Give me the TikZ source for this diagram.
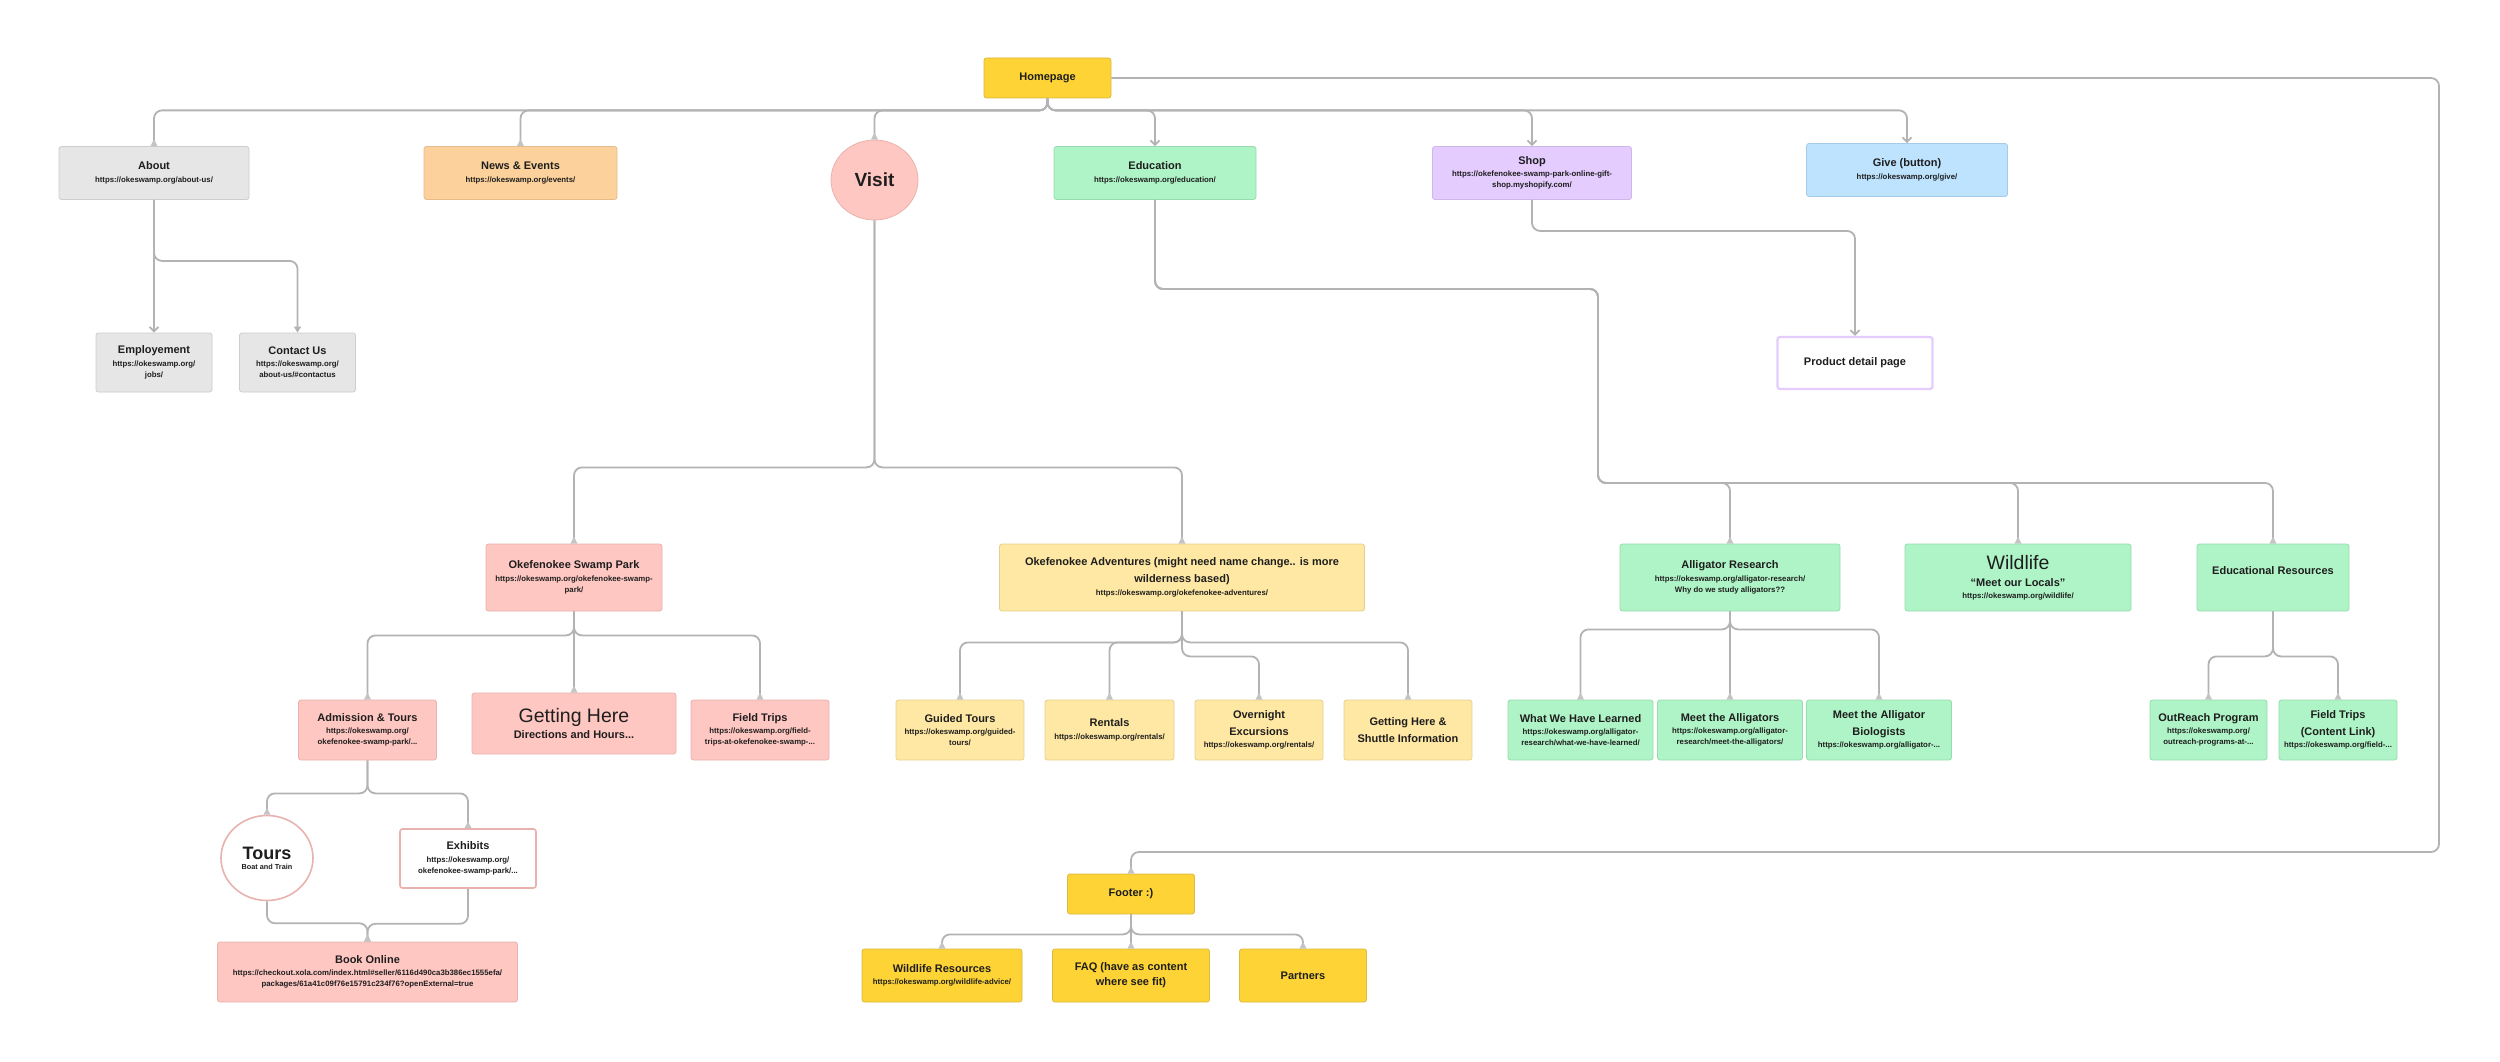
\documentclass[tikz,border=0pt]{standalone}
\usepackage{fontspec}
\setmainfont{Liberation Sans}
\usetikzlibrary{arrows.meta,shapes.geometric}
\definecolor{txt}{HTML}{1E1E1E}
\definecolor{linec}{HTML}{B3B3B3}
\definecolor{tipc}{HTML}{C4C4C4}
\definecolor{yel}{HTML}{FDD335}
\definecolor{yeld}{HTML}{DDB940}
\definecolor{gry}{HTML}{E6E6E6}
\definecolor{gryd}{HTML}{CDCDCD}
\definecolor{peach}{HTML}{FCD19C}
\definecolor{peachd}{HTML}{E6BC8A}
\definecolor{pnk}{HTML}{FFC7C2}
\definecolor{pnkd}{HTML}{E8B2AE}
\definecolor{grn}{HTML}{AFF4C6}
\definecolor{grnd}{HTML}{97DCAE}
\definecolor{lil}{HTML}{E4CCFF}
\definecolor{lild}{HTML}{CDB6E8}
\definecolor{blu}{HTML}{BDE3FF}
\definecolor{blud}{HTML}{A6CBE8}
\definecolor{lyel}{HTML}{FFE8A3}
\definecolor{lyeld}{HTML}{E6CF8E}
% title followed by a url line (extra depth gives the larger gap)
\newcommand{\ttlx}[1]{{\fontsize{11}{14}\selectfont #1\rule[-5.8pt]{0pt}{0pt}}}
% plain title line
\newcommand{\ttly}[1]{{\fontsize{11}{14}\selectfont #1}}
\newcommand{\bigtx}[1]{{\fontsize{19}{22}\selectfont #1}}
\newcommand{\bigrx}[1]{{\fontsize{19.5}{22}\selectfont\mdseries #1}}
\tikzset{
  box/.style={draw, rounded corners=2.5pt, line width=0.8pt, inner sep=0pt, align=center, text=txt,
    font=\fontsize{7.8}{11}\selectfont\bfseries},
  gbox/.style={box, fill=gry, draw=gryd},
  pbox/.style={box, fill=pnk, draw=pnkd},
  ybox/.style={box, fill=lyel, draw=lyeld},
  gnbox/.style={box, fill=grn, draw=grnd},
  fbox/.style={box, fill=yel, draw=yeld},
  conn/.style={draw=linec, line width=1.8pt, rounded corners=8pt},
  up/.style={-{Triangle[reversed,length=7pt,width=6.5pt,color=tipc]}},
  vee/.style={-{Straight Barb[length=4.5pt,width=9pt]}},
  dn/.style={-{Triangle[length=6pt,width=7pt]}},
}
\begin{document}
\begin{tikzpicture}[x=1pt,y=-1pt]
\useasboundingbox (0,0) rectangle (2500,1062);
\fill[white] (0,0) rectangle (2500,1062);

% top level
\node[fbox, minimum width=127pt, minimum height=40pt] (home) at (1047.5,78) {\ttly{Homepage}};
\node[gbox, minimum width=190pt, minimum height=53pt] (about) at (154,173) {\ttlx{About}\\https://okeswamp.org/about-us/};
\node[box, fill=peach, draw=peachd, minimum width=193pt, minimum height=53pt] (news) at (520.5,173) {\ttlx{News \& Events}\\https://okeswamp.org/events/};
\node[ellipse, draw=pnkd, fill=pnk, line width=0.8pt, minimum width=87pt, minimum height=80pt, inner sep=0pt, text=txt, font=\bfseries] (visit) at (874.5,180) {\bigtx{Visit}};
\node[gnbox, minimum width=202pt, minimum height=53pt] (edu) at (1155,173) {\ttlx{Education}\\https://okeswamp.org/education/};
\node[box, fill=lil, draw=lild, minimum width=199pt, minimum height=53pt] (shop) at (1532,173) {\ttlx{Shop}\\https://okefenokee-swamp-park-online-gift-\\shop.myshopify.com/};
\node[box, fill=blu, draw=blud, minimum width=201pt, minimum height=53pt] (give) at (1907,170) {\ttlx{Give (button)}\\https://okeswamp.org/give/};

% about children
\node[gbox, minimum width=116pt, minimum height=59pt] (empl) at (154,362.5) {\ttlx{Employement}\\https://okeswamp.org/\\jobs/};
\node[gbox, minimum width=116pt, minimum height=59pt] (contact) at (297.5,362.5) {\ttlx{Contact Us}\\https://okeswamp.org/\\about-us/\#contactus};
\node[box, fill=white, draw=lil, line width=2.2pt, minimum width=155pt, minimum height=52pt] (product) at (1855,363) {\ttly{Product detail page}};

% second level
\node[pbox, minimum width=176pt, minimum height=67pt] (swamp) at (574,577.5) {\ttlx{Okefenokee Swamp Park}\\https://okeswamp.org/okefenokee-swamp-\\park/};
\node[ybox, minimum width=365pt, minimum height=67pt] (adv) at (1182,577.5) {\ttly{Okefenokee Adventures (might need name change.. is more}\\[6pt]\ttlx{wilderness based)}\\https://okeswamp.org/okefenokee-adventures/};
\node[gnbox, minimum width=220pt, minimum height=67pt] (allig) at (1730,577.5) {\ttlx{Alligator Research}\\https://okeswamp.org/alligator-research/\\Why do we study alligators??};
\node[gnbox, minimum width=226pt, minimum height=67pt] (wild) at (2018,577.5) {\bigrx{Wildlife}\\[6pt]\ttlx{“Meet our Locals”}\\https://okeswamp.org/wildlife/};
\node[gnbox, minimum width=152pt, minimum height=67pt] (edres) at (2273,577.5) {\raisebox{7pt}[\height][\depth]{\ttly{Educational Resources}}};

% swamp park children
\node[pbox, minimum width=138pt, minimum height=60pt] (adm) at (367.5,730) {\ttlx{Admission \& Tours}\\https://okeswamp.org/\\okefenokee-swamp-park/...};
\node[pbox, minimum width=204pt, minimum height=61pt] (gethere) at (574,723.5) {\bigrx{Getting Here}\\[3pt]\ttly{Directions and Hours...}};
\node[pbox, minimum width=138pt, minimum height=60pt] (field1) at (760,730) {\ttlx{Field Trips}\\https://okeswamp.org/field-\\trips-at-okefenokee-swamp-...};

% adventures children
\node[ybox, minimum width=128pt, minimum height=60pt] (guided) at (960,730) {\ttlx{Guided Tours}\\https://okeswamp.org/guided-\\tours/};
\node[ybox, minimum width=129pt, minimum height=60pt] (rentals) at (1109.5,730) {\ttlx{Rentals}\\https://okeswamp.org/rentals/};
\node[ybox, minimum width=128pt, minimum height=60pt] (overnight) at (1259,730) {\ttly{Overnight}\\[6pt]\ttlx{Excursions}\\https://okeswamp.org/rentals/};
\node[ybox, minimum width=128pt, minimum height=60pt] (shuttle) at (1408,730) {\ttly{Getting Here \&}\\[6pt]\ttly{Shuttle Information}};

% alligator children
\node[gnbox, minimum width=145pt, minimum height=60pt] (learned) at (1580.5,730) {\ttlx{What We Have Learned}\\https://okeswamp.org/alligator-\\research/what-we-have-learned/};
\node[gnbox, minimum width=145pt, minimum height=60pt] (meetall) at (1730,730) {\ttlx{Meet the Alligators}\\https://okeswamp.org/alligator-\\research/meet-the-alligators/};
\node[gnbox, minimum width=145pt, minimum height=60pt] (biol) at (1879,730) {\ttly{Meet the Alligator}\\[6pt]\ttlx{Biologists}\\https://okeswamp.org/alligator-...};

% educational resources children
\node[gnbox, minimum width=117pt, minimum height=60pt] (outreach) at (2208.5,730) {\ttlx{OutReach Program}\\https://okeswamp.org/\\outreach-programs-at-...};
\node[gnbox, minimum width=118pt, minimum height=60pt] (field2) at (2338,730) {\ttly{Field Trips}\\[6pt]\ttlx{(Content Link)}\\https://okeswamp.org/field-...};

% admission children
\node[ellipse, draw=pnkd, fill=white, line width=1.6pt, minimum width=92pt, minimum height=85pt, inner sep=0pt, align=center, text=txt, font=\fontsize{7.3}{10}\selectfont\bfseries] (tours) at (267,858) {{\fontsize{18}{20}\selectfont Tours}\\Boat and Train};
\node[box, fill=white, draw=pnkd, line width=1.6pt, minimum width=136pt, minimum height=59pt] (exhibits) at (468,858.5) {\ttlx{Exhibits}\\https://okeswamp.org/\\okefenokee-swamp-park/...};
\node[pbox, minimum width=300pt, minimum height=60pt] (book) at (367.5,972) {\ttlx{Book Online}\\https://checkout.xola.com/index.html\#seller/6116d490ca3b386ec1555efa/\\packages/61a41c09f76e15791c234f76?openExternal=true};

% footer
\node[fbox, minimum width=127pt, minimum height=40pt] (footer) at (1131,894) {\ttly{Footer :)}};
\node[fbox, minimum width=160pt, minimum height=53pt] (wres) at (942,975.5) {\ttlx{Wildlife Resources}\\https://okeswamp.org/wildlife-advice/};
\node[fbox, minimum width=157pt, minimum height=53pt] (faq) at (1131,975.5) {\ttly{FAQ (have as content}\\[4pt]\ttly{where see fit)}};
\node[fbox, minimum width=127pt, minimum height=53pt] (partners) at (1303,975.5) {\ttly{Partners}};

% helper coordinates
\coordinate (rtop) at (2439,78);
\coordinate (rbot) at (2439,852);
\coordinate (ea) at (1598,289);
\coordinate (eb) at (1598,483);

% connectors from homepage
\draw[conn, up] (home.south) -- ++(0,12) -| (about.north);
\draw[conn, up] (home.south) -- ++(0,12) -| (news.north);
\draw[conn, up] (home.south) -- ++(0,12) -| (visit.north);
\draw[conn, vee] (home.south) -- ++(0,12) -| (edu.north);
\draw[conn, vee] (home.south) -- ++(0,12) -| (shop.north);
\draw[conn, vee] (home.south) -- ++(0,12) -| (give.north);
\draw[conn, up] (home.east) -- (rtop) -- (rbot) -| (footer.north);

% about
\draw[conn, vee] (about.south) -- (empl.north);
\draw[conn, dn] (about.south) -- ++(0,61) -| (contact.north);
% shop
\draw[conn, vee] (shop.south) -- ++(0,31) -| (product.north);
% education
\draw[conn, up] (edu.south) |- (ea) -- (eb) -| (allig.north);
\draw[conn, up] (edu.south) |- (ea) -- (eb) -| (wild.north);
\draw[conn, up] (edu.south) |- (ea) -- (eb) -| (edres.north);
% visit
\draw[conn, up] (visit.south) -- ++(0,247) -| (swamp.north);
\draw[conn, up] (visit.south) -- ++(0,247) -| (adv.north);
% swamp park
\draw[conn, up] (swamp.south) -- ++(0,24) -| (adm.north);
\draw[conn, up] (swamp.south) -- (gethere.north);
\draw[conn, up] (swamp.south) -- ++(0,24) -| (field1.north);
% adventures
\draw[conn, up] (adv.south) -- ++(0,31) -| (guided.north);
\draw[conn, up] (adv.south) -- ++(0,31) -| (rentals.north);
\draw[conn, up] (adv.south) -- ++(0,45) -| (overnight.north);
\draw[conn, up] (adv.south) -- ++(0,31) -| (shuttle.north);
% alligator research
\draw[conn, up] (allig.south) -- ++(0,18) -| (learned.north);
\draw[conn, up] (allig.south) -- (meetall.north);
\draw[conn, up] (allig.south) -- ++(0,18) -| (biol.north);
% educational resources
\draw[conn, up] (edres.south) -- ++(0,45) -| (outreach.north);
\draw[conn, up] (edres.south) -- ++(0,45) -| (field2.north);
% admission
\draw[conn, up] (adm.south) -- ++(0,33) -| (tours.north);
\draw[conn, up] (adm.south) -- ++(0,33) -| (exhibits.north);
\draw[conn, up] (tours.south) -- ++(0,22) -| (book.north);
\draw[conn, up] (exhibits.south) -- ++(0,35) -| (book.north);
% footer
\draw[conn, up] (footer.south) -- ++(0,20) -| (wres.north);
\draw[conn, up] (footer.south) -- (faq.north);
\draw[conn, up] (footer.south) -- ++(0,20) -| (partners.north);
\end{tikzpicture}
\end{document}
